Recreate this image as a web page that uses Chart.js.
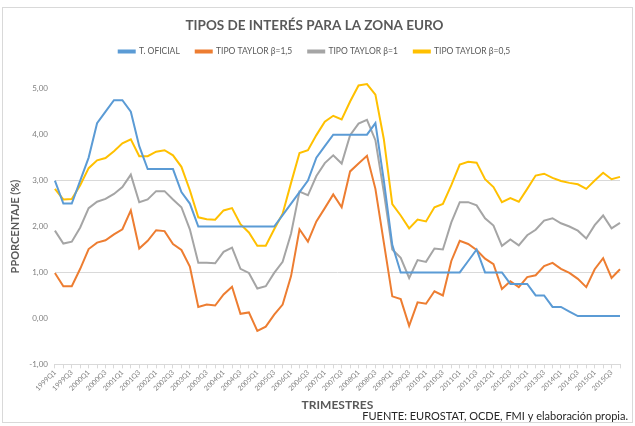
<!DOCTYPE html>
<html>
<head>
<meta charset="utf-8">
<script src="https://cdn.jsdelivr.net/npm/chart.js@4.4.0/dist/chart.umd.min.js"></script>
<style>
    html, body { margin: 0; padding: 0; background: #ffffff; }
    #box {
        position: absolute; left: 2px; top: 7px;
        width: 631px; height: 416px;
        border: 1px solid #d9d9d9; box-sizing: border-box;
    }
    #chart { display: block; }
</style>
</head>
<body>
<div id="box"><canvas id="chart" width="629" height="414"></canvas></div>
<script>
const TITLE = 'TIPOS DE INTERÉS PARA LA ZONA EURO';
const SOURCE = 'FUENTE: EUROSTAT, OCDE, FMI y elaboración propia.';

const QUARTERS = [
    '1999Q1', '1999Q2', '1999Q3', '1999Q4', '2000Q1', '2000Q2', '2000Q3', '2000Q4',
    '2001Q1', '2001Q2', '2001Q3', '2001Q4', '2002Q1', '2002Q2', '2002Q3', '2002Q4',
    '2003Q1', '2003Q2', '2003Q3', '2003Q4', '2004Q1', '2004Q2', '2004Q3', '2004Q4',
    '2005Q1', '2005Q2', '2005Q3', '2005Q4', '2006Q1', '2006Q2', '2006Q3', '2006Q4',
    '2007Q1', '2007Q2', '2007Q3', '2007Q4', '2008Q1', '2008Q2', '2008Q3', '2008Q4',
    '2009Q1', '2009Q2', '2009Q3', '2009Q4', '2010Q1', '2010Q2', '2010Q3', '2010Q4',
    '2011Q1', '2011Q2', '2011Q3', '2011Q4', '2012Q1', '2012Q2', '2012Q3', '2012Q4',
    '2013Q1', '2013Q2', '2013Q3', '2013Q4', '2014Q1', '2014Q2', '2014Q3', '2014Q4',
    '2015Q1', '2015Q2', '2015Q3', '2015Q4'
];

const T_OFICIAL = [
    3.00, 2.50, 2.50, 3.00, 3.50, 4.25, 4.50, 4.75, 4.75, 4.50, 3.75, 3.25,
    3.25, 3.25, 3.25, 2.75, 2.50, 2.00, 2.00, 2.00, 2.00, 2.00, 2.00, 2.00,
    2.00, 2.00, 2.00, 2.25, 2.50, 2.75, 3.00, 3.50, 3.75, 4.00, 4.00, 4.00,
    4.00, 4.00, 4.25, 3.00, 1.60, 1.00, 1.00, 1.00, 1.00, 1.00, 1.00, 1.00,
    1.00, 1.25, 1.50, 1.00, 1.00, 1.00, 0.75, 0.75, 0.75, 0.50, 0.50, 0.25,
    0.25, 0.15, 0.05, 0.05, 0.05, 0.05, 0.05, 0.05
];

const TAYLOR_15 = [
    0.99, 0.70, 0.70, 1.08, 1.51, 1.65, 1.70, 1.83, 1.94, 2.35, 1.52, 1.69,
    1.92, 1.90, 1.62, 1.49, 1.13, 0.25, 0.30, 0.28, 0.52, 0.69, 0.10, 0.13,
    -0.27, -0.18, 0.08, 0.30, 0.92, 1.94, 1.67, 2.11, 2.40, 2.70, 2.42, 3.20,
    3.37, 3.54, 2.82, 1.65, 0.48, 0.42, -0.16, 0.35, 0.32, 0.59, 0.50, 1.25,
    1.69, 1.62, 1.49, 1.30, 1.18, 0.64, 0.81, 0.68, 0.90, 0.94, 1.14, 1.21,
    1.08, 0.99, 0.86, 0.68, 1.07, 1.31, 0.88, 1.07
];

const TAYLOR_1 = [
    1.91, 1.63, 1.67, 1.98, 2.40, 2.54, 2.60, 2.71, 2.86, 3.13, 2.53, 2.59,
    2.77, 2.77, 2.59, 2.42, 1.94, 1.21, 1.21, 1.20, 1.45, 1.54, 1.08, 0.99,
    0.65, 0.70, 0.99, 1.23, 1.85, 2.76, 2.68, 3.10, 3.38, 3.55, 3.37, 3.99,
    4.24, 4.32, 3.88, 2.75, 1.50, 1.32, 0.88, 1.27, 1.23, 1.52, 1.50, 2.09,
    2.53, 2.53, 2.46, 2.18, 2.02, 1.58, 1.72, 1.59, 1.81, 1.93, 2.13, 2.18,
    2.07, 2.00, 1.91, 1.74, 2.03, 2.24, 1.96, 2.08
];

const TAYLOR_05 = [
    2.82, 2.59, 2.60, 2.90, 3.27, 3.44, 3.49, 3.64, 3.81, 3.90, 3.53, 3.53,
    3.63, 3.66, 3.55, 3.30, 2.79, 2.20, 2.16, 2.15, 2.35, 2.40, 2.05, 1.87,
    1.58, 1.58, 1.94, 2.28, 2.95, 3.60, 3.66, 3.99, 4.28, 4.41, 4.33, 4.72,
    5.07, 5.10, 4.87, 3.90, 2.49, 2.24, 1.96, 2.15, 2.11, 2.42, 2.49, 2.90,
    3.35, 3.41, 3.39, 3.03, 2.86, 2.53, 2.62, 2.54, 2.82, 3.11, 3.15, 3.06,
    2.99, 2.95, 2.92, 2.82, 3.00, 3.17, 3.03, 3.08
];

const Y_MIN = -1;
const Y_MAX = 5;

const TEXT_GREY = '#595959';
const TICK_GREY = '#808080';
const FONT = "Lato, 'Open Sans', sans-serif";
const LEGEND_GAP = 23;

function serie(label, data, color) {
    return {
        label: label,
        data: data,
        borderColor: color,
        backgroundColor: color,
        borderWidth: 2,
        pointRadius: 0,
        tension: 0,
        clip: false
    };
}

// extra room under the legend, like the Excel original
const legendSpacer = {
    id: 'legendSpacer',
    beforeLayout: function (chart) {
        var legend = chart.legend;
        if (!legend || legend._spaced) return;
        var fit = legend.fit;
        legend.fit = function () {
            fit.call(this);
            this.height += LEGEND_GAP;
        };
        legend._spaced = true;
    }
};

// source note, bottom right
const sourceNote = {
    id: 'sourceNote',
    afterDraw: function (chart) {
        var c = chart.ctx;
        c.save();
        c.font = '11px ' + FONT;
        c.fillStyle = '#262626';
        c.textAlign = 'right';
        c.textBaseline = 'middle';
        c.fillText(SOURCE, chart.width - 4, chart.height - 6);
        c.restore();
    }
};

var ctx = document.getElementById('chart').getContext('2d');

var chart = new Chart(ctx, {
    type: 'line',
    data: {
        labels: QUARTERS,
        datasets: [
            serie('T. OFICIAL', T_OFICIAL, '#5b9bd5'),
            serie('TIPO TAYLOR β=1,5', TAYLOR_15, '#ed7d31'),
            serie('TIPO TAYLOR β=1', TAYLOR_1, '#a5a5a5'),
            serie('TIPO TAYLOR β=0,5', TAYLOR_05, '#ffc000')
        ]
    },
    plugins: [legendSpacer, sourceNote],
    options: {
        responsive: false,
        animation: false,
        layout: { padding: { left: 6, right: 12, top: 0, bottom: 10 } },
        plugins: {
            title: {
                display: true,
                text: TITLE,
                color: TEXT_GREY,
                font: { family: FONT, size: 13.5, weight: 'bold' },
                padding: { top: 10, bottom: -3 }
            },
            legend: {
                display: true,
                labels: {
                    color: TEXT_GREY,
                    font: { family: FONT, size: 8.5 },
                    boxWidth: 16,
                    boxHeight: 2,
                    padding: 16
                }
            },
            tooltip: { enabled: false }
        },
        scales: {
            x: {
                offset: false,
                grid: {
                    drawOnChartArea: false,
                    color: '#d9d9d9',
                    tickLength: 4
                },
                border: { color: '#d9d9d9' },
                ticks: {
                    autoSkip: false,
                    maxRotation: 45,
                    minRotation: 45,
                    color: TICK_GREY,
                    font: { family: FONT, size: 7 },
                    padding: 0,
                    callback: function (value, index) {
                        return index % 2 === 0 ? QUARTERS[index] : '';
                    }
                },
                title: {
                    display: true,
                    text: 'TRIMESTRES',
                    color: TEXT_GREY,
                    font: { family: FONT, size: 12, weight: 'bold' },
                    padding: { top: 5, bottom: 0 }
                }
            },
            y: {
                min: Y_MIN,
                max: Y_MAX,
                grid: {
                    color: function (c) {
                        var v = c.tick ? c.tick.value : 0;
                        return (v === 1 || v === 3) ? '#d9d9d9' : 'rgba(0,0,0,0)';
                    },
                    drawTicks: false
                },
                border: { display: false },
                ticks: {
                    stepSize: 1,
                    color: TICK_GREY,
                    font: { family: FONT, size: 8 },
                    padding: 7,
                    callback: function (value) {
                        return value.toFixed(2).replace('.', ',');
                    }
                },
                title: {
                    display: true,
                    text: 'PPORCENTAJE (%)',
                    color: TEXT_GREY,
                    font: { family: FONT, size: 11, weight: 'bold' },
                    padding: { top: 0, bottom: 0 }
                }
            }
        }
    }
});
</script>
</body>
</html>
